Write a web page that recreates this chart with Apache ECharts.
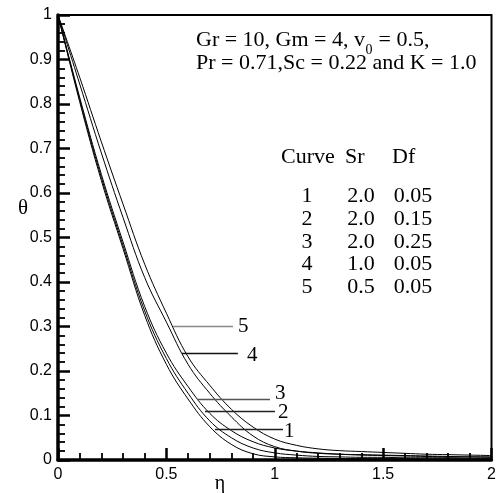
<!DOCTYPE html>
<html><head><meta charset="utf-8">
<script src="https://cdn.jsdelivr.net/npm/echarts@6/dist/echarts.min.js"></script>
<style>html,body{margin:0;padding:0;background:#fff}#c{width:502px;height:493px}</style>
</head><body><div id="c"></div>
<script>
// ---- data ----
const etaValues = [0, 0.1, 0.2, 0.3, 0.4, 0.5, 0.6, 0.7, 0.8, 0.9, 1.0, 1.1, 1.2, 1.3, 1.4, 1.5, 1.6, 1.7, 1.8, 1.9, 2.0];
const curve1 = [1, 0.805, 0.628, 0.475, 0.325, 0.215, 0.137, 0.075, 0.035, 0.014, 0.007, 0.005, 0.004, 0.0035, 0.003, 0.003, 0.003, 0.0025, 0.0025, 0.002, 0.002];
const curve2 = [1, 0.81, 0.635, 0.482, 0.335, 0.228, 0.15, 0.088, 0.05, 0.027, 0.016, 0.011, 0.008, 0.007, 0.006, 0.006, 0.005, 0.005, 0.005, 0.004, 0.004];
const curve3 = [1, 0.815, 0.642, 0.49, 0.345, 0.24, 0.165, 0.105, 0.066, 0.041, 0.027, 0.02, 0.016, 0.013, 0.011, 0.01, 0.009, 0.008, 0.007, 0.007, 0.006];
const curve4 = [1, 0.845, 0.69, 0.545, 0.41, 0.31, 0.215, 0.15, 0.097, 0.054, 0.03, 0.02, 0.015, 0.013, 0.012, 0.011, 0.01, 0.009, 0.008, 0.007, 0.007];
const curve5 = [1, 0.86, 0.715, 0.575, 0.44, 0.33, 0.232, 0.168, 0.114, 0.074, 0.047, 0.033, 0.025, 0.021, 0.019, 0.017, 0.015, 0.013, 0.012, 0.011, 0.01];
const curveIds = ['1', '2', '3', '4', '5'];
const srValues = ['2.0', '2.0', '2.0', '1.0', '0.5'];
const dfValues = ['0.05', '0.15', '0.25', '0.05', '0.05'];
// leader lines for curve labels (data coordinates)
const leaderY = [0.0697, 0.1085, 0.137, 0.241, 0.3];
const leaderX0 = [0.724, 0.678, 0.641, 0.572, 0.531];
const leaderX1 = [1.038, 1.001, 0.978, 0.830, 0.807];
const xTicks = [0, 0.5, 1, 1.5, 2];
const yTicks = [0, 0.1, 0.2, 0.3, 0.4, 0.5, 0.6, 0.7, 0.8, 0.9, 1];

const SERIF = '"Liberation Serif", "Times New Roman", serif';
const SANS = '"Liberation Sans", Arial, sans-serif';
const curves = [curve1, curve2, curve3, curve4, curve5];
const leaderColors = ['#222', '#222', '#555', '#111', '#888'];
const labelDist = [1, 3, 5, 9, 5];
const labelOffY = [3, 1, -6, 3, 0];

const series = curves.map((c, i) => ({
  type: 'line',
  name: 'Curve ' + curveIds[i],
  data: etaValues.map((x, k) => [x, c[k]]),
  showSymbol: false,
  smooth: 0.4,
  lineStyle: { color: '#000', width: 1 },
  silent: true,
  z: 3,
  markLine: {
    silent: true,
    symbol: ['none', 'none'],
    animation: false,
    lineStyle: { type: 'solid', color: leaderColors[i], width: 1.3 },
    label: {
      show: true, position: 'end', formatter: curveIds[i],
      distance: labelDist[i], offset: [0, labelOffY[i]],
      fontFamily: SERIF, fontSize: 21, color: '#000'
    },
    data: [[{ coord: [leaderX0[i], leaderY[i]] }, { coord: [leaderX1[i], leaderY[i]] }]]
  }
}));

const chart = echarts.init(document.getElementById('c'), null, { renderer: 'canvas' });

// measure for subscript placement
const ctx = document.createElement('canvas').getContext('2d');
const HF = 22;
ctx.font = HF + 'px ' + SERIF;
const hx = 196;
const part1 = 'Gr = 10, Gm = 4, v';
const w1 = ctx.measureText(part1).width;
ctx.font = '14px ' + SERIF;
const ws = ctx.measureText('0').width;
const mid = (t, x, y) => ({ type: 'text', x: x, y: y, style: { text: t, font: HF + 'px ' + SERIF, fill: '#000', align: 'center', verticalAlign: 'middle' } });
const leftText = (t, x, y, font) => ({ type: 'text', x: x, y: y, style: { text: t, font: font || (HF + 'px ' + SERIF), fill: '#000', align: 'left', verticalAlign: 'middle' } });

const graphics = [
  leftText(part1, hx, 40),
  leftText('0', hx + w1 + 0.5, 50, '14px ' + SERIF),
  leftText(' = 0.5,', hx + w1 + ws + 1, 40),
  leftText('Pr = 0.71,Sc = 0.22 and K = 1.0', hx, 63),
  leftText('Curve', 281, 157),
  leftText('Sr', 345, 157),
  leftText('Df', 392, 157),
  { type: 'text', x: 23, y: 208, style: { text: 'θ', font: '21px ' + SERIF, fill: '#000', align: 'center', verticalAlign: 'middle' } },
  { type: 'text', x: 220, y: 484, style: { text: 'η', font: '20px ' + SERIF, fill: '#000', align: 'center', verticalAlign: 'middle' } }
];
const rowY0 = 196.7, rowDY = 22.6;
curveIds.forEach((id, i) => {
  const y = rowY0 + i * rowDY;
  graphics.push(mid(id, 307, y), mid(srValues[i], 361, y), mid(dfValues[i], 413, y));
});

chart.setOption({
  animation: false,
  backgroundColor: '#fff',
  grid: { left: 58, right: 10.5, top: 15, bottom: 33, show: true, borderColor: '#000', borderWidth: 2, backgroundColor: 'transparent' },
  xAxis: {
    type: 'value', min: 0, max: 2, interval: 0.5,
    axisLine: { show: true, onZero: false, lineStyle: { color: '#000', width: 3.5 } },
    axisTick: { show: true, inside: true, length: 12, lineStyle: { color: '#000', width: 2.5 } },
    minorTick: { show: true, splitNumber: 5, length: 7, lineStyle: { color: '#000', width: 1.8 } },
    splitLine: { show: false },
    axisLabel: { color: '#000', fontFamily: SANS, fontSize: 16, margin: 7,
      formatter: v => { const t = xTicks.find(u => Math.abs(u - v) < 1e-9); return t === undefined ? '' : String(t); } }
  },
  yAxis: {
    type: 'value', min: 0, max: 1, interval: 0.1,
    axisLine: { show: true, onZero: false, lineStyle: { color: '#000', width: 3.5 } },
    axisTick: { show: true, inside: true, length: 12, lineStyle: { color: '#000', width: 2.5 } },
    minorTick: { show: true, splitNumber: 5, length: 7, lineStyle: { color: '#000', width: 1.8 } },
    splitLine: { show: false },
    axisLabel: { color: '#000', fontFamily: SANS, fontSize: 16, margin: 6,
      formatter: v => { const t = yTicks.find(u => Math.abs(u - v) < 1e-9); return t === undefined ? '' : String(t); } }
  },
  series: series,
  graphic: graphics
});
</script>
</body></html>
